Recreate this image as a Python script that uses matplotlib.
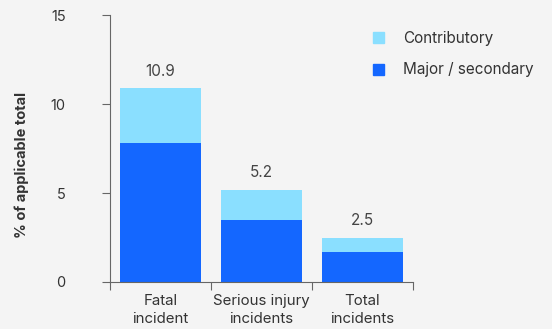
import numpy as np
import matplotlib.pyplot as plt
from matplotlib.patches import Patch

plt.rcParams["font.family"] = ["Inter", "DejaVu Sans"]

categories = ["Fatal\nincident", "Serious injury\nincidents", "Total\nincidents"]
major = [7.8, 3.5, 1.7]
contributory = [3.1, 1.7, 0.8]
totals = [10.9, 5.2, 2.5]

c_major = "#1467ff"
c_contrib = "#8adfff"
bg = "#f4f4f4"
txt = "#333333"
axc = "#666666"

fig = plt.figure(figsize=(5.52, 3.29), dpi=100, facecolor=bg)
ax = fig.add_axes([0.1993, 0.1429, 0.5489, 0.81])
ax.set_facecolor(bg)

x = np.arange(len(categories))
ax.bar(x, major, width=0.81, color=c_major, zorder=2)
ax.bar(x, contributory, width=0.81, bottom=major, color=c_contrib, zorder=2)

for xi, t in zip(x, totals):
    ax.annotate(f"{t}", (xi, t), xytext=(0, 7), textcoords="offset points",
                ha="center", va="bottom", fontsize=11, color="#444444")

ax.set_xlim(-0.5, 2.5)
ax.set_ylim(0, 15)
ax.set_yticks([0, 5, 10, 15])

# boundaries get the tick marks, category names sit under the bars
ax.set_xticks([-0.5, 0.5, 1.5, 2.5])
ax.set_xticklabels([])
ax.set_xticks(x, minor=True)
ax.set_xticklabels(categories, minor=True, fontsize=10.8, color=txt, linespacing=1.3)
ax.tick_params(axis="x", which="minor", length=0, pad=9)
ax.tick_params(axis="x", which="major", length=6, width=0.8, color=axc, direction="out")
ax.tick_params(axis="y", length=6, width=0.8, color=axc, direction="out",
               labelsize=10.5, labelcolor=txt, pad=26)

for s in ["top", "right"]:
    ax.spines[s].set_visible(False)
for s in ["left", "bottom"]:
    ax.spines[s].set_color(axc)
    ax.spines[s].set_linewidth(0.8)

fig.text(0.04, 0.50, "% of applicable total", rotation=90, ha="center", va="center",
         fontsize=10.5, fontweight="bold", color=txt)

handles = [Patch(color=c_contrib, label="Contributory"),
           Patch(color=c_major, label="Major / secondary")]
fig.legend(handles=handles, loc="upper left", bbox_to_anchor=(0.661, 0.93),
           frameon=False, fontsize=11, handlelength=0.75, handleheight=0.75,
           handletextpad=1.25, labelspacing=1.1, borderpad=0, labelcolor=txt)

fig.savefig("out.png", dpi=100, facecolor=bg)
